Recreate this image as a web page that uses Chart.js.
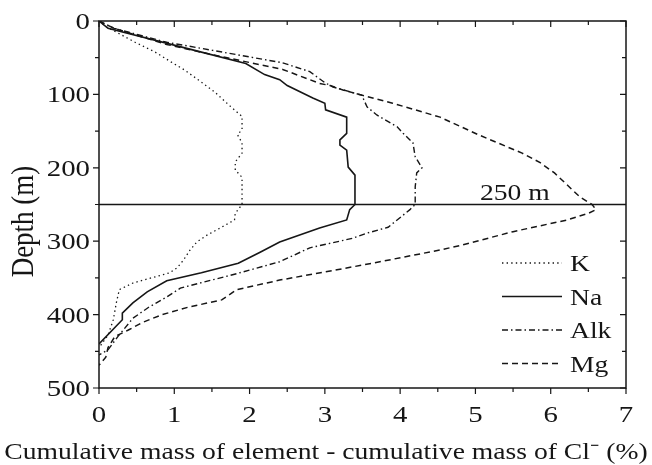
<!DOCTYPE html>
<html>
<head>
<meta charset="utf-8">
<script src="https://cdn.jsdelivr.net/npm/chart.js@4.4.0/dist/chart.umd.min.js"></script>
<style>
  html, body { margin: 0; padding: 0; background: #fff; }
  #wrap { width: 652px; height: 465px; }
</style>
</head>
<body>
<div id="wrap"><canvas id="chart" width="652" height="465"></canvas></div>
<script>
// Профили: глубина (м) и разница накопленных масс (%)
const kDepth = [0, 8, 29, 42, 56, 67, 84, 97, 114, 130, 148, 155, 166, 180, 192, 203, 213, 250, 262, 271, 282, 292, 301, 312, 326, 336, 343, 357, 366, 384, 407, 428, 445];
const kValue = [0, 0.1, 0.48, 0.74, 0.96, 1.14, 1.37, 1.54, 1.72, 1.90, 1.90, 1.84, 1.90, 1.90, 1.81, 1.81, 1.90, 1.90, 1.81, 1.80, 1.61, 1.43, 1.30, 1.21, 1.12, 1.04, 0.94, 0.45, 0.27, 0.23, 0.19, 0.12, 0.0];

const naDepth = [0, 10, 40, 58, 73, 80, 88, 105, 112, 121, 131, 153, 162, 169, 176, 199, 210, 250, 257, 271, 282, 301, 315, 330, 343, 354, 369, 384, 398, 407, 440];
const naValue = [0, 0.12, 1.27, 1.95, 2.2, 2.4, 2.5, 2.84, 3.0, 3.01, 3.29, 3.29, 3.20, 3.20, 3.29, 3.31, 3.40, 3.40, 3.33, 3.29, 2.93, 2.40, 2.14, 1.85, 1.36, 0.90, 0.64, 0.45, 0.31, 0.31, 0.0];

const alkDepth = [0, 10, 29, 40, 57, 69, 84, 90, 101, 117, 128, 144, 153, 166, 185, 200, 207, 226, 250, 257, 281, 289, 296, 309, 328, 345, 356, 364, 376, 390, 405, 430, 448, 455];
const alkValue = [0, 0.2, 0.90, 1.51, 2.44, 2.80, 3.0, 3.11, 3.49, 3.56, 3.69, 3.96, 4.04, 4.17, 4.20, 4.29, 4.22, 4.20, 4.20, 4.13, 3.84, 3.56, 3.37, 2.80, 2.40, 1.80, 1.38, 1.08, 0.90, 0.66, 0.45, 0.25, 0.12, 0.0];

const mgDepth = [0, 10, 32, 46, 66, 85, 88, 94, 101, 112, 131, 155, 180, 193, 207, 240, 250, 257, 262, 271, 287, 305, 312, 328, 339, 353, 366, 380, 390, 400, 411, 421, 430, 445, 458, 469];
const mgValue = [0, 0.2, 0.90, 1.51, 2.44, 2.93, 3.07, 3.24, 3.49, 3.90, 4.53, 5.04, 5.62, 5.86, 6.05, 6.39, 6.55, 6.60, 6.50, 6.22, 5.50, 4.83, 4.53, 3.73, 3.16, 2.40, 1.83, 1.63, 1.18, 0.84, 0.57, 0.39, 0.21, 0.12, 0.09, 0.0];

const seriesNames = ['K', 'Na', 'Alk', 'Mg'];
const markerDepth = 250;
const markerLabel = '250 m';

// Оси
const xMin = 0, xMax = 7, xStep = 1, xMinorStep = 0.5;
const yMin = 0, yMax = 500, yStep = 100, yMinorStep = 50;
const xTitle = 'Cumulative mass of element - cumulative mass of Cl\u207B (%)';
const yTitle = 'Depth (m)';

const serif = '"Liberation Serif", "Times New Roman", serif';
const ink = '#161616';
const stretch = 1.2; // исходный рисунок растянут по горизонтали

function toPoints(depths, values) {
    return depths.map((d, i) => ({ x: values[i], y: d }));
}

// Текст с горизонтальным растяжением
function drawText(ctx, text, x, y, align, size) {
    ctx.save();
    ctx.translate(x, y);
    ctx.scale(stretch, 1);
    ctx.font = size + 'px ' + serif;
    ctx.textAlign = align;
    ctx.textBaseline = 'alphabetic';
    ctx.fillText(text, 0, 0);
    ctx.restore();
}

const lineStyles = [
    { borderDash: [1.4, 3.2], borderWidth: 1.3 },
    { borderDash: [], borderWidth: 1.6 },
    { borderDash: [6, 3, 1.5, 3], borderWidth: 1.4 },
    { borderDash: [6, 4], borderWidth: 1.5 }
];

const seriesData = [
    toPoints(kDepth, kValue),
    toPoints(naDepth, naValue),
    toPoints(alkDepth, alkValue),
    toPoints(mgDepth, mgValue)
];

const datasets = seriesNames.map((name, i) => ({
    label: name,
    data: seriesData[i],
    showLine: true,
    borderColor: ink,
    borderWidth: lineStyles[i].borderWidth,
    borderDash: lineStyles[i].borderDash,
    pointRadius: 0,
    tension: 0,
    fill: false
}));

// Горизонтальная линия 250 м
datasets.push({
    label: markerLabel,
    data: [{ x: xMin, y: markerDepth }, { x: xMax, y: markerDepth }],
    showLine: true,
    borderColor: ink,
    borderWidth: 1.5,
    pointRadius: 0
});

// Рамка, засечки, подписи и легенда
const decorPlugin = {
    id: 'decor',
    afterDatasetsDraw(chart) {
        const { ctx, chartArea: a, scales: { x, y } } = chart;
        ctx.save();
        ctx.strokeStyle = ink;
        ctx.fillStyle = ink;
        ctx.lineWidth = 1.5;
        ctx.setLineDash([]);
        ctx.strokeRect(a.left, a.top, a.right - a.left, a.bottom - a.top);

        ctx.lineWidth = 1.2;
        ctx.beginPath();
        for (let v = xMin; v <= xMax + 1e-9; v += xMinorStep) {
            const px = x.getPixelForValue(v);
            const len = Math.abs(v % xStep) < 1e-9 ? 6 : 4;
            ctx.moveTo(px, a.bottom); ctx.lineTo(px, a.bottom + len);
            ctx.moveTo(px, a.top); ctx.lineTo(px, a.top + len);
        }
        for (let v = yMin; v <= yMax + 1e-9; v += yMinorStep) {
            const py = y.getPixelForValue(v);
            const len = Math.abs(v % yStep) < 1e-9 ? 6 : 4;
            ctx.moveTo(a.left - len, py); ctx.lineTo(a.left, py);
            ctx.moveTo(a.right - len, py); ctx.lineTo(a.right, py);
        }
        ctx.stroke();

        // Подписи делений
        x.ticks.forEach(t => {
            drawText(ctx, String(t.value), x.getPixelForValue(t.value), a.bottom + 34, 'center', 24);
        });
        y.ticks.forEach(t => {
            drawText(ctx, String(t.value), a.left - 9, y.getPixelForValue(t.value) + 8, 'right', 24);
        });

        // Подпись оси X
        drawText(ctx, xTitle, chart.width / 2, a.bottom + 71, 'center', 23);

        // Подпись 250 м
        drawText(ctx, markerLabel, x.getPixelForValue(5.06), y.getPixelForValue(markerDepth) - 5, 'left', 23);

        // Легенда
        seriesNames.forEach((name, i) => {
            const rowY = a.bottom - 125 + i * 33.5;
            ctx.lineWidth = lineStyles[i].borderWidth;
            ctx.setLineDash(lineStyles[i].borderDash);
            ctx.beginPath();
            ctx.moveTo(a.right - 124, rowY);
            ctx.lineTo(a.right - 64, rowY);
            ctx.stroke();
            drawText(ctx, name, a.right - 56, rowY + 8, 'left', 23);
        });
        ctx.setLineDash([]);

        // Подпись оси Y
        ctx.translate(24, (a.top + a.bottom) / 2 + 17);
        ctx.rotate(-Math.PI / 2);
        ctx.scale(1, stretch);
        ctx.font = '27px ' + serif;
        ctx.textAlign = 'center';
        ctx.textBaseline = 'middle';
        ctx.fillText(yTitle, 0, 0);
        ctx.restore();
    }
};

new Chart(document.getElementById('chart'), {
    type: 'scatter',
    data: { datasets },
    options: {
        responsive: false,
        animation: false,
        layout: { padding: { top: 21, right: 26, left: 0, bottom: 0 } },
        plugins: {
            legend: { display: false },
            tooltip: { enabled: false }
        },
        scales: {
            x: {
                type: 'linear',
                position: 'bottom',
                min: xMin,
                max: xMax,
                grid: { display: false, drawTicks: false },
                border: { display: false },
                ticks: { stepSize: xStep, display: false },
                afterFit(scale) { scale.height = 77; }
            },
            y: {
                type: 'linear',
                reverse: true,
                min: yMin,
                max: yMax,
                grid: { display: false, drawTicks: false },
                border: { display: false },
                ticks: { stepSize: yStep, display: false },
                afterFit(scale) { scale.width = 99; }
            }
        }
    },
    plugins: [decorPlugin]
});
</script>
</body>
</html>
